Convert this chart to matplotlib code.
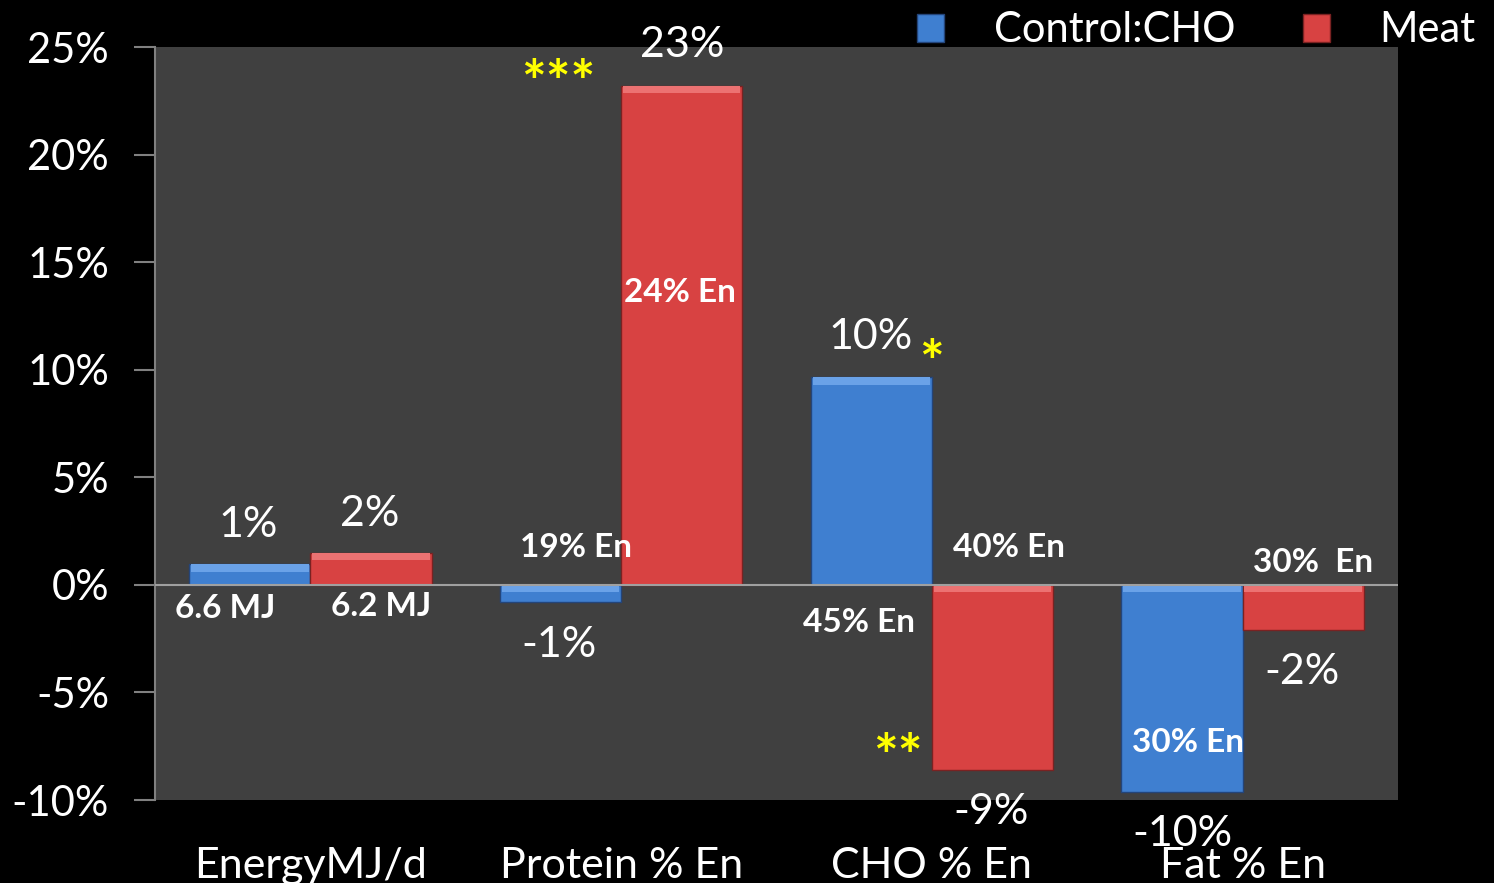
import matplotlib.pyplot as plt
import numpy as np

# data (% change)
categories = ['EnergyMJ/d', 'Protein % En', 'CHO % En', 'Fat % En']
control = [0.95, -0.8, 9.65, -9.65]
meat = [1.5, 23.2, -8.6, -2.1]
series_names = ['Control:CHO', 'Meat']
yticks = [-10, -5, 0, 5, 10, 15, 20, 25]

plt.rcParams['font.family'] = ['Lato', 'DejaVu Sans']

blue = '#3f7fd0'
red = '#d84242'

fig = plt.figure(figsize=[14.94, 8.83], dpi=100, facecolor='black')
ax = fig.add_axes([155/1494, 83/883, 1243/1494, 753/883], facecolor='#404040')

x = np.arange(len(categories))
w = 0.39
b1 = ax.bar(x - w/2, control, w, color=blue, edgecolor='#24457a', lw=1, label=series_names[0], zorder=3)
b2 = ax.bar(x + w/2, meat, w, color=red, edgecolor='#7a2222', lw=1, label=series_names[1], zorder=3)

# light top band to mimic the bevel
for xs, vals, c in [(x - w/2, control, '#6aa2e8'), (x + w/2, meat, '#ec7272')]:
    for xi, v in zip(xs, vals):
        ax.bar(xi, 0.35 * np.sign(v), w * 0.97, bottom=v - 0.35 * np.sign(v) if v > 0 else 0,
               color=c, lw=0, zorder=4)

ax.axhline(0, color='#a0a0a0', lw=1.5, zorder=5)

ax.set_xlim(-0.5, 3.5)
ax.set_ylim(-10, 25)
ax.set_yticks(yticks)
ax.set_yticklabels([f'{t}%' for t in yticks], color='white', fontsize=30)
ax.set_xticks(x)
ax.set_xticklabels(categories, color='white', fontsize=31)
ax.tick_params(axis='x', length=0, pad=34)
ax.tick_params(axis='y', length=15, width=1.5, color='#808080', pad=18)
for s in ['top', 'right', 'bottom']:
    ax.spines[s].set_visible(False)
ax.spines['left'].set_color('#808080')
ax.spines['left'].set_linewidth(1.5)

# value labels
plain = [(-0.20, 2.77, '1%'), (0.19, 3.28, '2%'), (0.80, -2.81, '-1%'),
         (1.195, 25.09, '23%'), (1.802, 11.51, '10%'), (2.19, -10.58, '-9%'),
         (3.19, -4.07, '-2%'), (2.805, -11.56, '-10%')]
for px, py, t in plain:
    ax.text(px, py, t, color='white', fontsize=31, ha='center', va='center', clip_on=False, zorder=6)

bold = [(-0.275, -1.09, '6.6 MJ'), (0.227, -1.0, '6.2 MJ'), (0.854, 1.74, '19% En'),
        (1.188, 13.6, '24% En'), (2.249, 1.74, '40% En'), (1.767, -1.74, '45% En'),
        (3.227, 1.05, '30%  En'), (2.825, -7.33, '30% En')]
for px, py, t in bold:
    ax.text(px, py, t, color='white', fontsize=24, fontweight='bold', ha='center', va='center', zorder=6)

stars = [(0.796, 23.2, '***'), (1.998, 10.2, '*'), (1.892, -8.1, '**')]
for px, py, t in stars:
    ax.text(px, py, t, color='#ffff00', fontsize=42, fontweight='bold', ha='center', va='center', zorder=6)

leg = fig.legend(handles=[b1, b2], loc='upper right', bbox_to_anchor=(0.999, 1.006), ncol=2,
                 frameon=False, fontsize=30, handlelength=0.65, handleheight=0.65,
                 handletextpad=1.2, columnspacing=1.6, borderaxespad=0)
for t in leg.get_texts():
    t.set_color('white')

fig.savefig('out.png', dpi=100, facecolor='black')
